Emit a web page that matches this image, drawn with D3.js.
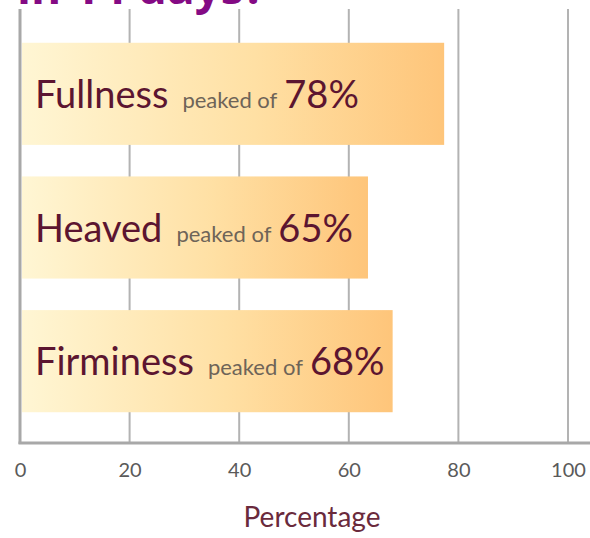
<!DOCTYPE html>
<html>
<head>
<meta charset="utf-8">
<script src="https://cdn.jsdelivr.net/npm/d3@7"></script>
<style>
  body { margin: 0; background: #fff; }
  svg { display: block; }
</style>
</head>
<body>
<svg id="chart" width="590" height="538"></svg>
<script>
// values
const categories = ["Fullness", "Heaved", "Firminess"];
const barValues = [77.4, 63.5, 68];      // drawn bar lengths
const peakLabels = ["78%", "65%", "68%"]; // printed labels
const ticks = [0, 20, 40, 60, 80, 100];
const titleText = "in 14 days?";
const axisTitle = "Percentage";

const svg = d3.select("#chart");
const width = 590, height = 538;
const margin = {left: 20, right: 22, top: 9, bottom: 95};

const x = d3.scaleLinear().domain([0, 100]).range([margin.left, width - margin.right]);
const y = d3.scaleBand().domain(categories)
    .range([27, 428]).paddingInner(0.236).paddingOuter(0.118);
const baseY = height - margin.bottom;

// gradient for the bars
const defs = svg.append("defs");
const grad = defs.append("linearGradient").attr("id", "barGrad")
    .attr("x1", "0%").attr("x2", "100%").attr("y1", "0%").attr("y2", "0%");
grad.append("stop").attr("offset", "0%").attr("stop-color", "#fff6d4");
grad.append("stop").attr("offset", "55%").attr("stop-color", "#ffe0a4");
grad.append("stop").attr("offset", "100%").attr("stop-color", "#fec57a");

// title, mostly cut off at the top (as in the source image)
svg.append("text")
    .attr("x", 17).attr("y", 4)
    .attr("font-family", "Open Sans, sans-serif")
    .attr("font-weight", "bold")
    .attr("font-size", 46)
    .attr("fill", "#840a84")
    .text(titleText);

// grid lines
svg.append("g").selectAll("line")
    .data(ticks.slice(1))
    .join("line")
    .attr("x1", d => x(d)).attr("x2", d => x(d))
    .attr("y1", margin.top).attr("y2", baseY)
    .attr("stroke", "#b3b3b3").attr("stroke-width", 2);

// bars
const bars = svg.append("g").selectAll("g")
    .data(categories)
    .join("g");

bars.append("rect")
    .attr("x", x(0) + 2)
    .attr("y", d => y(d))
    .attr("width", (d, i) => x(barValues[i]) - x(0) - 2)
    .attr("height", y.bandwidth())
    .attr("fill", "url(#barGrad)");

const label = bars.append("text")
    .attr("x", x(0) + 15)
    .attr("y", d => y(d) + y.bandwidth() / 2 + 14)
    .attr("font-family", "Lato, sans-serif");

label.append("tspan")
    .attr("font-size", 38)
    .attr("fill", "#5c1530")
    .text(d => d);
label.append("tspan")
    .attr("dx", 14)
    .attr("font-size", 22)
    .attr("fill", "#6e6458")
    .text("peaked of");
label.append("tspan")
    .attr("dx", 7)
    .attr("font-size", 38)
    .attr("fill", "#5c1530")
    .text((d, i) => peakLabels[i]);

// axes (left and bottom lines)
svg.append("line")
    .attr("x1", x(0)).attr("x2", x(0))
    .attr("y1", margin.top).attr("y2", baseY + 1)
    .attr("stroke", "#a8a8a8").attr("stroke-width", 3);
svg.append("line")
    .attr("x1", x(0) - 1.5).attr("x2", width)
    .attr("y1", baseY).attr("y2", baseY)
    .attr("stroke", "#a8a8a8").attr("stroke-width", 3);

// tick labels
const xAxis = d3.axisBottom(x).tickValues(ticks).tickSize(0).tickPadding(0);
const ax = svg.append("g").attr("transform", `translate(0,${baseY + 20})`).call(xAxis);
ax.select(".domain").remove();
ax.selectAll("text")
    .attr("font-family", "Lato, sans-serif")
    .attr("font-size", 20)
    .attr("fill", "#5a5a5a");

svg.append("text")
    .attr("x", (x(0) + x(100)) / 2 + 18)
    .attr("y", 527)
    .attr("text-anchor", "middle")
    .attr("font-family", "Lato, sans-serif")
    .attr("font-size", 28)
    .attr("fill", "#6a2a3c")
    .text(axisTitle);
</script>
</body>
</html>
